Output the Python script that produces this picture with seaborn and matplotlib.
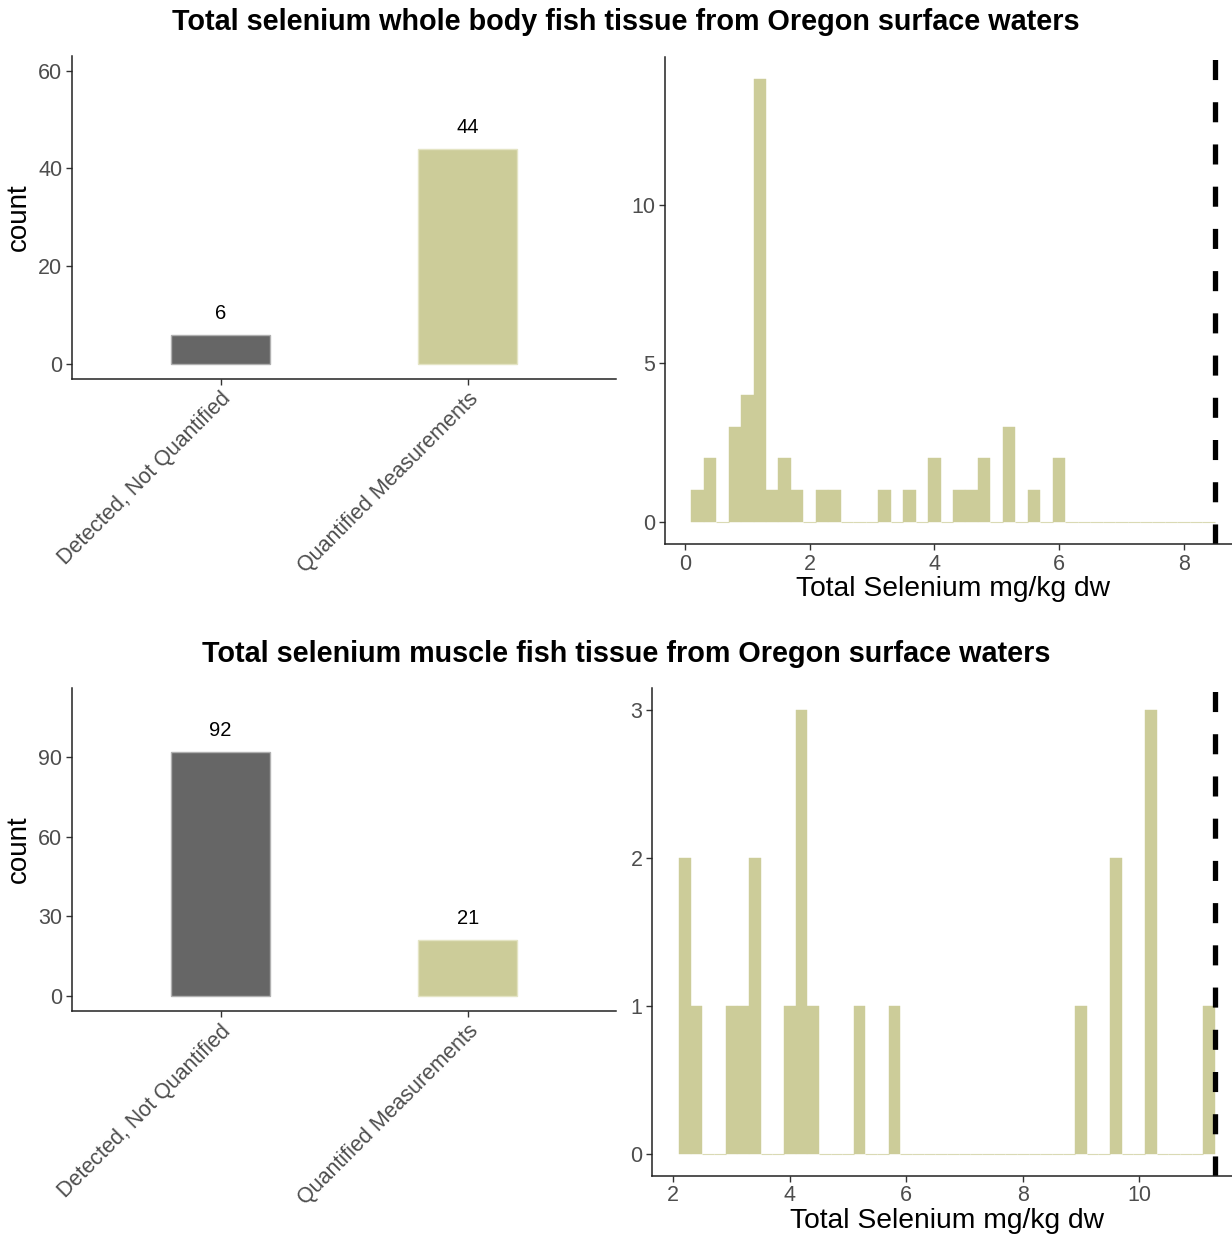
import matplotlib
matplotlib.use("Agg")
import matplotlib.pyplot as plt
import seaborn as sns
import numpy as np
import pandas as pd

# ---------------- data ----------------
categories = ["Detected, Not Quantified", "Quantified Measurements"]
wb_counts = [6, 44]
mu_counts = [92, 21]

# whole body histogram (binwidth 0.2, left edges)
wb_bin_left = [0.1, 0.3, 0.5, 0.7, 0.9, 1.1, 1.3, 1.5, 1.7, 1.9, 2.1, 2.3, 2.5, 2.7,
               2.9, 3.1, 3.3, 3.5, 3.7, 3.9, 4.1, 4.3, 4.5, 4.7, 4.9, 5.1, 5.3, 5.5,
               5.7, 5.9, 6.1, 6.3, 6.5, 6.7, 6.9, 7.1, 7.3, 7.5, 7.7, 7.9, 8.1, 8.3]
wb_hist = [1, 2, 0, 3, 4, 14, 1, 2, 1, 0, 1, 1, 0, 0,
           0, 1, 0, 1, 0, 2, 0, 1, 1, 2, 0, 3, 0, 1,
           0, 2, 0, 0, 0, 0, 0, 0, 0, 0, 0, 0, 0, 0]

# muscle histogram
mu_bin_left = [2.1, 2.3, 2.5, 2.7, 2.9, 3.1, 3.3, 3.5, 3.7, 3.9, 4.1, 4.3, 4.5, 4.7,
               4.9, 5.1, 5.3, 5.5, 5.7, 5.9, 6.1, 6.3, 6.5, 6.7, 6.9, 7.1, 7.3, 7.5,
               7.7, 7.9, 8.1, 8.3, 8.5, 8.7, 8.9, 9.1, 9.3, 9.5, 9.7, 9.9, 10.1, 10.3,
               10.5, 10.7, 10.9, 11.1]
mu_hist = [2, 1, 0, 0, 1, 1, 2, 0, 0, 1, 3, 1, 0, 0,
           0, 1, 0, 0, 1, 0, 0, 0, 0, 0, 0, 0, 0, 0,
           0, 0, 0, 0, 0, 0, 1, 0, 0, 2, 0, 0, 3, 0,
           0, 0, 0, 1]
binwidth = 0.2

criteria = [8.5, 11.3]  # whole body, muscle (mg/kg dw)

titles = ["Total selenium whole body fish tissue from Oregon surface waters",
          "Total selenium muscle fish tissue from Oregon surface waters"]
xlab = "Total Selenium mg/kg dw"

# ---------------- style ----------------
sns.set_theme(style="ticks")
plt.rcParams["font.family"] = ["Liberation Sans", "DejaVu Sans"]

DARK = "#666666"
KHAKI = "#CCCC99"
TICKC = "#4D4D4D"

W, H = 1232, 1237
fig = plt.figure(figsize=(W / 100, H / 100), dpi=100)


def pos(l, t, r, b):
    return [l / W, 1 - b / H, (r - l) / W, (b - t) / H]


def style_axes(ax):
    for s in ["top", "right"]:
        ax.spines[s].set_visible(False)
    for s in ["left", "bottom"]:
        ax.spines[s].set_color("#222222")
        ax.spines[s].set_linewidth(1.1)
    ax.tick_params(axis="both", colors="#333333", labelcolor=TICKC, labelsize=15.5,
                   length=4, width=1.0, pad=3)
    ax.grid(False)


def bar_panel(ax, counts, ylim, yticks):
    df = pd.DataFrame({"cat": categories, "n": counts})
    sns.barplot(data=df, x="cat", y="n", hue="cat", palette=[DARK, KHAKI],
                width=0.4, legend=False, ax=ax, saturation=1)
    for p, c in zip(ax.patches, ["#B0B0B0", "#E4E4C4"]):
        p.set_edgecolor(c)
        p.set_linewidth(1.0)
    for i, n in enumerate(counts):
        ax.annotate(str(n), (i, n), xytext=(0, 15.5), textcoords="offset points",
                    ha="center", va="center", fontsize=14.5, color="black")
    ax.set_xlim(-0.6, 1.6)
    ax.set_ylim(*ylim)
    ax.set_yticks(yticks)
    ax.set_xlabel("")
    ax.set_ylabel("count", fontsize=20, color="black", labelpad=5)
    style_axes(ax)
    for lab in ax.get_xticklabels():
        lab.set_rotation(45)
        lab.set_ha("right")
        lab.set_va("top")
        lab.set_rotation_mode("anchor")
        lab.set_fontsize(15.5)


def hist_panel(ax, lefts, counts, crit, xlim, ylim, xticks, yticks):
    centers = [l + binwidth / 2 for l in lefts]
    edges = list(lefts) + [lefts[-1] + binwidth]
    df = pd.DataFrame({"x": centers, "w": counts})
    sns.histplot(data=df, x="x", weights="w", bins=edges, color=KHAKI, alpha=1,
                 edgecolor="#DADAB4", linewidth=0.8, ax=ax)
    for p in ax.patches:
        if p.get_height() > 0:
            p.set_edgecolor(KHAKI)
            p.set_linewidth(0.3)
    ax.axvline(crit, color="black", linewidth=3.8, linestyle=(0, (3.8, 4.2)))
    ax.set_xlim(*xlim)
    ax.set_ylim(*ylim)
    ax.set_xticks(xticks)
    ax.set_yticks(yticks)
    ax.set_ylabel("")
    ax.set_xlabel(xlab, fontsize=20.3, color="black", labelpad=1)
    style_axes(ax)


# top row
ax1 = fig.add_axes(pos(72.2, 56.1, 616.3, 378.6))
bar_panel(ax1, wb_counts, (-3, 63), [0, 20, 40, 60])
ax2 = fig.add_axes(pos(665, 56.5, 1241, 543.8))
hist_panel(ax2, wb_bin_left, wb_hist, criteria[0], (-0.32, 8.92), (-0.7, 14.7),
           [0, 2, 4, 6, 8], [0, 5, 10])

# bottom row
ax3 = fig.add_axes(pos(72.2, 687.9, 616.3, 1011))
bar_panel(ax3, mu_counts, (-5.52, 115.92), [0, 30, 60, 90])
ax4 = fig.add_axes(pos(652.3, 688, 1241.7, 1175.7))
hist_panel(ax4, mu_bin_left, mu_hist, criteria[1], (1.64, 11.76), (-0.15, 3.15),
           [2, 4, 6, 8, 10], [0, 1, 2, 3])

fig.text(626 / W, 1 - 22 / H, titles[0], ha="center", va="center",
         fontsize=20.7, fontweight="bold", color="black")
fig.text(626 / W, 1 - 654 / H, titles[1], ha="center", va="center",
         fontsize=20.7, fontweight="bold", color="black")

fig.savefig("out.png", dpi=100)
